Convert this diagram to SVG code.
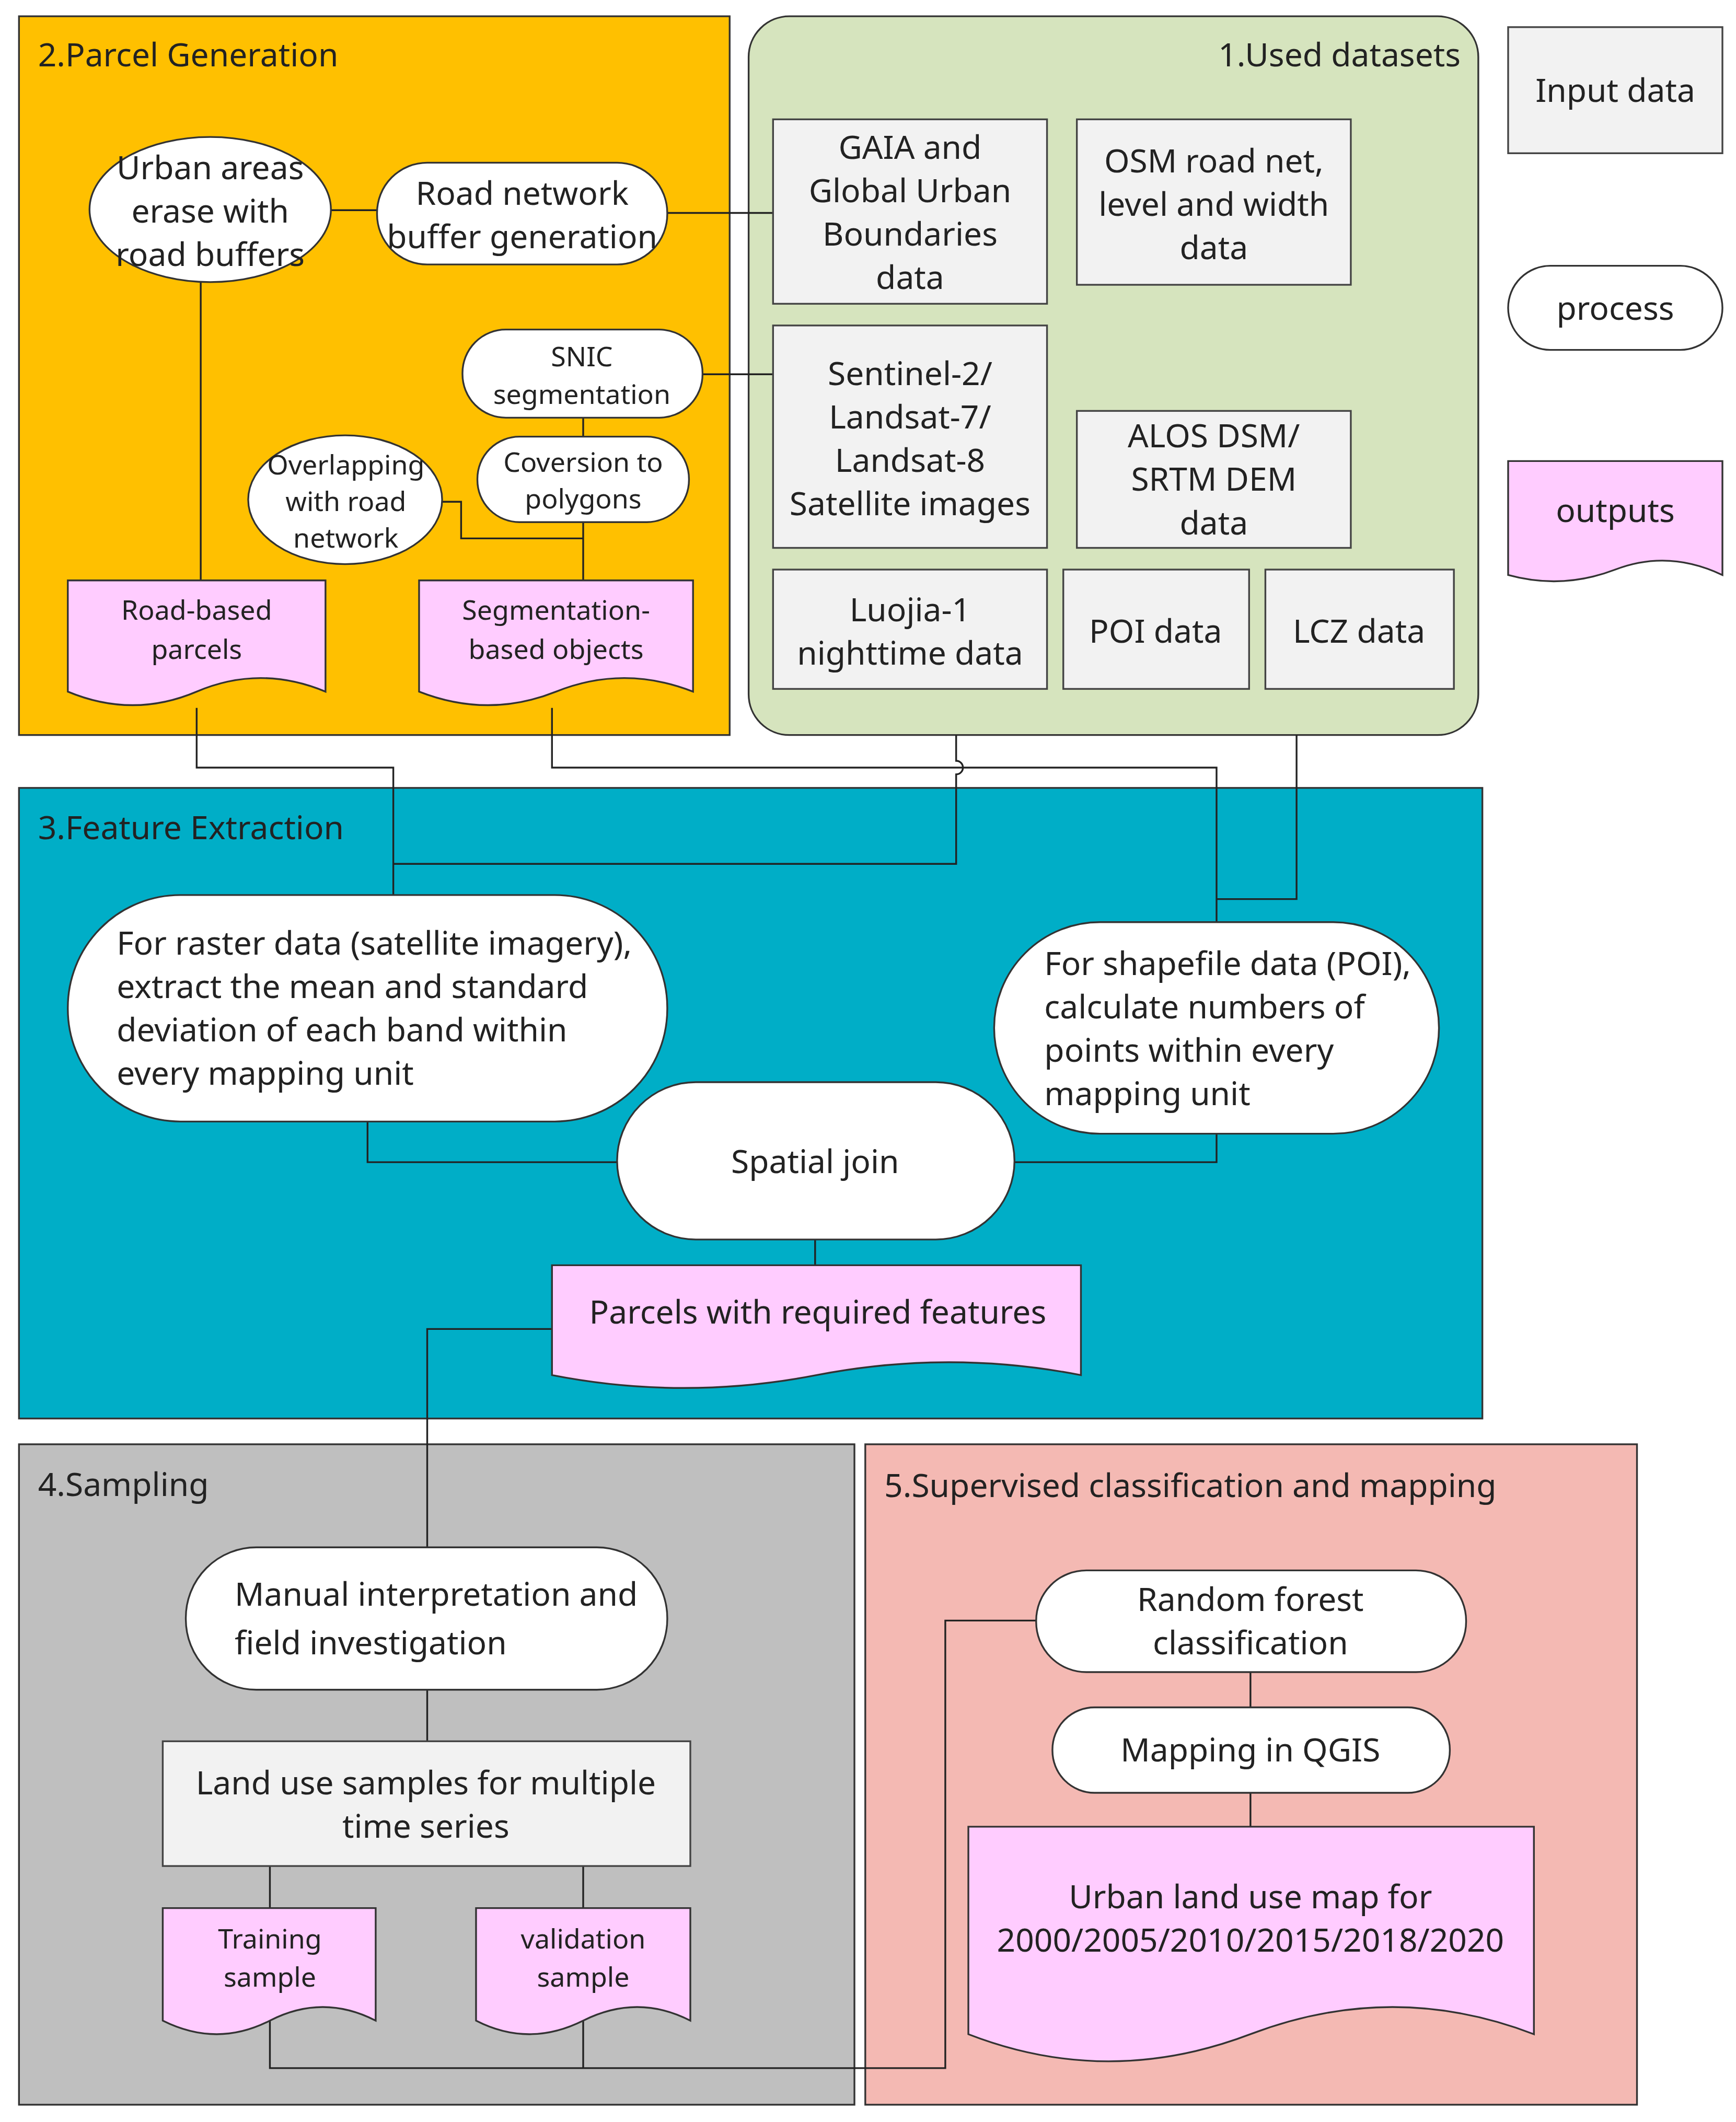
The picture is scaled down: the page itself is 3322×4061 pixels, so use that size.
<svg xmlns="http://www.w3.org/2000/svg" width="3322" height="4061" viewBox="0 0 3322 4061">
<style>
.p{stroke:#333;stroke-width:1.3}
.in{fill:#F2F2F2;stroke:#444;stroke-width:1.3}
.pr{fill:#fff;stroke:#333;stroke-width:1.3}
.out{fill:#FFCCFF;stroke:#333;stroke-width:1.3}
.c{fill:none;stroke:#222;stroke-width:1.3}
text{font-family:"Noto Sans","Liberation Sans",sans-serif;fill:#222;font-size:24px}
.m{text-anchor:middle}
.s{font-size:20px}
</style>
<rect width="3322" height="4061" fill="#fff"/>
<g transform="scale(2.5953)">
<g id="panels">
<rect x="14" y="12" width="524" height="530" fill="#FFC000" class="p"/>
<text x="28" y="49">2.Parcel Generation</text>
<rect x="552" y="12" width="538" height="530" rx="30" fill="#D6E4BE" class="p"/>
<text x="1077" y="49" text-anchor="end">1.Used datasets</text>
<rect x="14" y="581" width="1079" height="465" fill="#00AEC7" class="p"/>
<text x="28" y="619">3.Feature Extraction</text>
<rect x="14" y="1065" width="616" height="487" fill="#BFBFBF" class="p"/>
<text x="28" y="1103">4.Sampling</text>
<rect x="638" y="1065" width="569" height="487" fill="#F4B9B3" class="p"/>
<text x="652" y="1104">5.Supervised classification and mapping</text>
</g>
<g id="connectors">
<path class="c" d="M244 155H278M492 157H570M148 208V428M518 276H570M430 308V322M430 385V428M326 370H340V397H430"/>
<path class="c" d="M145 522V566H290V660M290 637H705V571A5 5 0 0 0 705 561V542M407 522V566H897V680M956 542V663H897"/>
<path class="c" d="M271 827V857H455M748 857H897V836M601 914V933M407 980H315V1141"/>
<path class="c" d="M315 1246V1284M199 1376V1407M430 1376V1407M199 1490V1525H697V1195H764M430 1490V1525"/>
<path class="c" d="M922 1233V1259M922 1322V1347"/>
</g>
<g id="legend-input"><rect class="in" x="1112" y="20" width="158" height="93"/><text class="m" x="1191" y="75">Input data</text></g>
<g id="legend-process"><rect class="pr" x="1112" y="196" width="158" height="62" rx="31"/><text class="m" x="1191" y="236">process</text></g>
<g id="legend-outputs"><path class="out" d="M1112 340H1270V424Q1230 405 1191 420T1112 424Z"/><text class="m" x="1191" y="385">outputs</text></g>

<g id="gaia"><rect class="in" x="570" y="88" width="202" height="136"/><text class="m" x="671" y="117">GAIA and</text><text class="m" x="671" y="149">Global Urban</text><text class="m" x="671" y="181">Boundaries</text><text class="m" x="671" y="213">data</text></g>
<g id="osm"><rect class="in" x="794" y="88" width="202" height="122"/><text class="m" x="895" y="127">OSM road net,</text><text class="m" x="895" y="159">level and width</text><text class="m" x="895" y="191">data</text></g>
<g id="sentinel"><rect class="in" x="570" y="240" width="202" height="164"/><text class="m" x="671" y="284">Sentinel-2/</text><text class="m" x="671" y="316">Landsat-7/</text><text class="m" x="671" y="348">Landsat-8</text><text class="m" x="671" y="380">Satellite images</text></g>
<g id="alos"><rect class="in" x="794" y="303" width="202" height="101"/><text class="m" x="895" y="330">ALOS DSM/</text><text class="m" x="895" y="362">SRTM DEM</text><text class="m" x="895" y="394">data</text></g>
<g id="luojia"><rect class="in" x="570" y="420" width="202" height="88"/><text class="m" x="671" y="458">Luojia-1</text><text class="m" x="671" y="490">nighttime data</text></g>
<g id="poi"><rect class="in" x="784" y="420" width="137" height="88"/><text class="m" x="852" y="474">POI data</text></g>
<g id="lcz"><rect class="in" x="933" y="420" width="139" height="88"/><text class="m" x="1002" y="474">LCZ data</text></g>

<g id="urban"><ellipse class="pr" cx="155" cy="154.5" rx="89" ry="53.5"/><text class="m" x="155" y="132">Urban areas</text><text class="m" x="155" y="164">erase with</text><text class="m" x="155" y="196">road buffers</text></g>
<g id="roadbuf"><rect class="pr" x="278" y="120" width="214" height="75" rx="37"/><text class="m" x="385" y="151">Road network</text><text class="m" x="385" y="183">buffer generation</text></g>
<g id="snic"><rect class="pr" x="341" y="243" width="177" height="65" rx="32"/><text class="m s" x="429" y="270">SNIC</text><text class="m s" x="429" y="298">segmentation</text></g>
<g id="conv"><rect class="pr" x="352" y="322" width="156" height="63" rx="31"/><text class="m s" x="430" y="348">Coversion to</text><text class="m s" x="430" y="375">polygons</text></g>
<g id="overlap"><ellipse class="pr" cx="254.5" cy="368.5" rx="71.5" ry="47.5"/><text class="m s" x="255" y="350">Overlapping</text><text class="m s" x="255" y="377">with road</text><text class="m s" x="255" y="404">network</text></g>
<g id="roadparcels"><path class="out" d="M50 428H240V510Q192 490 145 510T50 510Z"/><text class="m s" x="145" y="457">Road-based</text><text class="m s" x="145" y="486">parcels</text></g>
<g id="segobj"><path class="out" d="M309 428H511V510Q460 490 410 510T309 510Z"/><text class="m s" x="410" y="457">Segmentation-</text><text class="m s" x="410" y="486">based objects</text></g>

<g id="raster"><rect class="pr" x="50" y="660" width="442" height="167" rx="83"/><text x="86" y="704">For raster data (satellite imagery),</text><text x="86" y="736">extract the mean and standard</text><text x="86" y="768">deviation of each band within</text><text x="86" y="800">every mapping unit</text></g>
<g id="shape"><rect class="pr" x="733" y="680" width="328" height="156" rx="78"/><text x="770" y="719">For shapefile data (POI),</text><text x="770" y="751">calculate numbers of</text><text x="770" y="783">points within every</text><text x="770" y="815">mapping unit</text></g>
<g id="spatial"><rect class="pr" x="455" y="798" width="293" height="116" rx="58"/><text class="m" x="601" y="865">Spatial join</text></g>
<g id="parcels"><path class="out" d="M407 933H797V1014Q700 995 602 1014T407 1014Z"/><text class="m" x="603" y="976">Parcels with required features</text></g>

<g id="manual"><rect class="pr" x="137" y="1141" width="355" height="105" rx="52"/><text x="173" y="1184">Manual interpretation and</text><text x="173" y="1220">field investigation</text></g>
<g id="samples"><rect class="in" x="120" y="1284" width="389" height="92"/><text class="m" x="314" y="1323">Land use samples for multiple</text><text class="m" x="314" y="1355">time series</text></g>
<g id="training"><path class="out" d="M120 1407H277V1490Q238 1470 199 1490T120 1490Z"/><text class="m s" x="199" y="1437">Training</text><text class="m s" x="199" y="1465">sample</text></g>
<g id="validation"><path class="out" d="M351 1407H509V1490Q470 1470 430 1490T351 1490Z"/><text class="m s" x="430" y="1437">validation</text><text class="m s" x="430" y="1465">sample</text></g>

<g id="rf"><rect class="pr" x="764" y="1158" width="317" height="75" rx="37"/><text class="m" x="922" y="1188">Random forest</text><text class="m" x="922" y="1220">classification</text></g>
<g id="qgis"><rect class="pr" x="776" y="1259" width="293" height="63" rx="31"/><text class="m" x="922" y="1299">Mapping in QGIS</text></g>
<g id="map"><path class="out" d="M714 1347H1131V1500Q1027 1460 922 1500T714 1500Z"/><text class="m" x="922" y="1407">Urban land use map for</text><text class="m" x="922" y="1439">2000/2005/2010/2015/2018/2020</text></g>
</g>
</svg>
